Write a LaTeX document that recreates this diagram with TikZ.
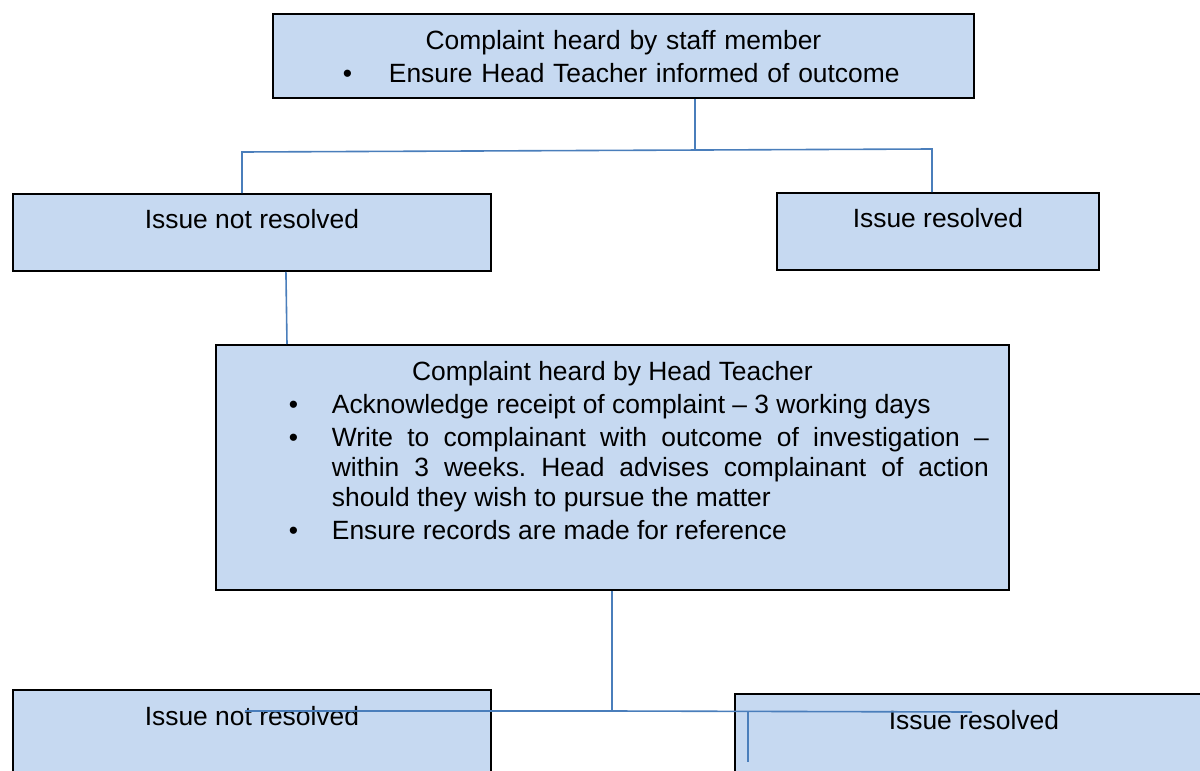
\documentclass[tikz,border=0pt]{standalone}
\usepackage{fontspec}
\setmainfont{Liberation Sans}

\definecolor{boxfill}{HTML}{C6D9F1}
\definecolor{linkblue}{HTML}{4A7EBB}

% bullet line: #1 = indent of the bullet, #2 = indent of the text
\newcommand{\pointitem}[2]{%
  \par\vspace{2.25pt}\noindent\hangindent=#2\hangafter=1%
  \hspace*{#1}\makebox[\dimexpr#2-#1\relax][l]{\textbullet}}

\begin{document}
\begin{tikzpicture}[x=0.75pt, y=-0.75pt]

    \tikzset{block/.style={%
      draw,%
      rectangle,%
      fill=boxfill,%
      line width=1.4pt,%
      inner sep=0pt,%
      anchor=north west,%
      font=\fontsize{19.8pt}{22.5pt}\selectfont}%
    };
    \tikzset{smallblock/.style={block, align=center, minimum width=358.5pt, text height=26pt, text depth=31.75pt}};
    \tikzset{link/.style={draw=linkblue, line width=1.2pt}};

    \useasboundingbox (0, 0) rectangle (1200, 771);

    %%%%%%%%%%%%%%%
    % first stage %
    %%%%%%%%%%%%%%%
    \node[block, text width=525.75pt, text height=27pt, text depth=36pt] (staff) at (272, 13) {%
      {\centering Complaint heard by staff member\par}
      \pointitem{52.5pt}{87pt}Ensure Head Teacher informed of outcome\par
    };

    \node[smallblock] (notres) at (12, 193) {Issue not resolved};
    \node[smallblock, minimum width=241.5pt] (res) at (776, 192) {Issue resolved};

    %%%%%%%%%%%%%%%%
    % second stage %
    %%%%%%%%%%%%%%%%
    \node[block, align=justify, text width=594.75pt, text height=27pt, text depth=156.75pt] (head) at (215, 344) {%
      \frenchspacing\leftskip=0pt\rightskip=15pt plus 0pt\parfillskip=0pt plus 1fil
      {\centering Complaint heard by Head Teacher\par}
      \pointitem{54.75pt}{87pt}Acknowledge receipt of complaint – 3 working days\par
      \pointitem{54.75pt}{87pt}Write to complainant with outcome of investigation –\linebreak
        within 3 weeks. Head advises complainant of action\linebreak
        should they wish to pursue the matter\par
      \pointitem{54.75pt}{87pt}Ensure records are made for reference\par
    };

    \node[smallblock, text height=27pt, text depth=60pt] (notresb) at (12, 689) {Issue not resolved};
    \node[smallblock, text height=27pt, text depth=60pt] (resb) at (734, 693) {Issue resolved};

    % connectors
    \coordinate (split) at (695, 151);
    \coordinate (splitl) at (242, 152);
    \coordinate (splitr) at (932, 149);
    \draw[link] (staff.south -| split) -- (split);
    \draw[link] (notres.north -| splitl) -- (splitl) -- (splitr) -- (res.north -| splitr);

    \draw[link] ([xshift=25.5pt]notres.south) -- ([xshift=54pt]head.north west);

    \coordinate (merge) at (612, 711);
    \coordinate (mergel) at (245, 711);
    \coordinate (merger) at (972, 712);
    \coordinate (drop) at (748, 762);
    \draw[link] (head.south -| merge) -- (merge);
    \draw[link] (mergel) -- (merge) -- (merger);
    \draw[link] (drop |- merger) -- (drop);

  \end{tikzpicture}
\end{document}
